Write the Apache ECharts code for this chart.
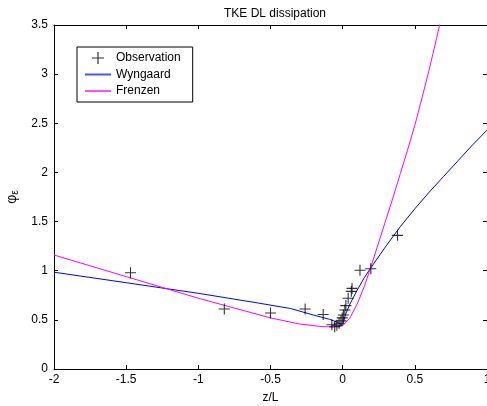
<!DOCTYPE html>
<html>
<head>
<meta charset="utf-8">
<script src="https://cdn.jsdelivr.net/npm/echarts@6/dist/echarts.min.js"></script>
<style>
  html, body { margin: 0; padding: 0; background: #fff; }
  #chart { width: 487px; height: 406px; }
</style>
</head>
<body>
<div id="chart"></div>
<script>
// values
const obsX = [-1.47, -0.82, -0.50, -0.26, -0.135, -0.075, -0.055, -0.04, -0.025, -0.012,
  -0.003, 0.005, 0.015, 0.022, 0.038, 0.06, 0.065, 0.12, 0.195, 0.38];
const obsY = [0.98, 0.61, 0.57, 0.61, 0.555, 0.45, 0.43, 0.445, 0.465, 0.49,
  0.52, 0.55, 0.60, 0.645, 0.72, 0.79, 0.82, 1.005, 1.02, 1.36];

const wynX = [-2, -1.5, -1.0, -0.6, -0.36, -0.2, -0.09, -0.04, 0, 0.02, 0.05, 0.1, 0.15,
  0.2, 0.3, 0.4, 0.5, 0.6, 0.7, 0.8, 0.9, 1.0];
const wynY = [0.985, 0.878, 0.77, 0.675, 0.615, 0.548, 0.505, 0.478, 0.445, 0.555, 0.66, 0.80, 0.93,
  1.04, 1.25, 1.45, 1.63, 1.80, 1.96, 2.12, 2.28, 2.43];

const freX = [-2, -1.75, -1.5, -1.25, -1.0, -0.75, -0.5, -0.3, -0.15, -0.07, 0, 0.05, 0.1,
  0.15, 0.2, 0.25, 0.3, 0.35, 0.4, 0.45, 0.5, 0.55, 0.6, 0.65, 0.7];
const freY = [1.16, 1.05, 0.94, 0.83, 0.72, 0.62, 0.52, 0.458, 0.432, 0.427, 0.44, 0.52, 0.66,
  0.84, 1.06, 1.29, 1.52, 1.75, 1.99, 2.23, 2.48, 2.76, 3.05, 3.36, 3.68];

const xTicks = { min: -2, max: 1, interval: 0.5 };
const yTicks = { min: 0, max: 3.5, interval: 0.5 };

const zip = (xs, ys) => xs.map((x, i) => [x, ys[i]]);

const font = 'Liberation Sans, Arial, sans-serif';
const plus = 'path://M4.5,0h1v4.5h4.5v1h-4.5v4.5h-1v-4.5h-4.5v-1h4.5z';

const chart = echarts.init(document.getElementById('chart'));

const baseAxis = {
  axisLine: { show: true, onZero: false, lineStyle: { color: '#000', width: 1 } },
  axisTick: { show: true, inside: true, length: 4, lineStyle: { color: '#000' } },
  splitLine: { show: false },
};

chart.setOption({
  animation: false,
  backgroundColor: '#fff',
  textStyle: { fontFamily: font },
  title: {
    text: 'TKE DL dissipation',
    left: 270,
    textAlign: 'center',
    top: 3,
    textStyle: { fontSize: 12, fontWeight: 'normal', color: '#000', fontFamily: font },
  },
  grid: { left: 54, right: 0, top: 25, bottom: 37, outerBoundsMode: 'none', containLabel: false },
  legend: {
    left: 77,
    top: 47,
    orient: 'vertical',
    backgroundColor: '#fff',
    borderColor: '#000',
    borderWidth: 1,
    borderRadius: 0,
    padding: [5, 12, 5, 7],
    itemWidth: 26,
    itemHeight: 12,
    itemGap: 4.5,
    textStyle: { fontSize: 12, color: '#000', fontFamily: font },
    data: [
      { name: 'Observation', icon: plus, itemStyle: { color: '#000' } },
      { name: 'Wyngaard', itemStyle: { opacity: 0 }, lineStyle: { color: '#5050ff', width: 2 } },
      { name: 'Frenzen', itemStyle: { opacity: 0 }, lineStyle: { color: '#ff50ff', width: 2 } },
    ],
  },
  xAxis: [
    Object.assign({}, baseAxis, {
      type: 'value',
      min: xTicks.min, max: xTicks.max, interval: xTicks.interval,
      name: 'z/L',
      nameLocation: 'middle',
      nameGap: 23,
      nameTextStyle: { fontSize: 12, color: '#000', fontFamily: font },
      axisLabel: { color: '#000', fontSize: 12, margin: 5, fontFamily: font },
    }),
    Object.assign({}, baseAxis, {
      type: 'value', position: 'top',
      min: xTicks.min, max: xTicks.max, interval: xTicks.interval,
      axisLabel: { show: false },
    }),
  ],
  yAxis: [
    Object.assign({}, baseAxis, {
      type: 'value',
      min: yTicks.min, max: yTicks.max, interval: yTicks.interval,
      name: '{p|φ}{e|ε}',
      nameLocation: 'middle',
      nameRotate: 90,
      nameGap: 34,
      nameTextStyle: {
        color: '#000',
        rich: {
          p: { fontSize: 14, color: '#000', fontFamily: font, lineHeight: 16, verticalAlign: 'middle' },
          e: { fontSize: 10, color: '#000', fontFamily: font, lineHeight: 16, verticalAlign: 'bottom', padding: [7, 0, 0, 0] },
        },
      },
      axisLabel: { color: '#000', fontSize: 12, margin: 6, fontFamily: font },
    }),
    Object.assign({}, baseAxis, {
      type: 'value', position: 'right',
      min: yTicks.min, max: yTicks.max, interval: yTicks.interval,
      axisLabel: { show: false },
    }),
  ],
  series: [
    {
      name: 'Wyngaard',
      type: 'line',
      data: zip(wynX, wynY),
      showSymbol: false,
      symbol: 'none',
      clip: true,
      lineStyle: { color: '#0000ff', width: 1 },
      itemStyle: { color: '#0000ff' },
    },
    {
      name: 'Frenzen',
      type: 'line',
      data: zip(freX, freY),
      showSymbol: false,
      symbol: 'none',
      clip: true,
      lineStyle: { color: '#ff00ff', width: 1 },
      itemStyle: { color: '#ff00ff' },
    },
    {
      name: 'Observation',
      type: 'scatter',
      data: zip(obsX, obsY),
      symbol: plus,
      symbolSize: 11,
      itemStyle: { color: '#000' },
      z: 3,
    },
  ],
});
</script>
</body>
</html>
